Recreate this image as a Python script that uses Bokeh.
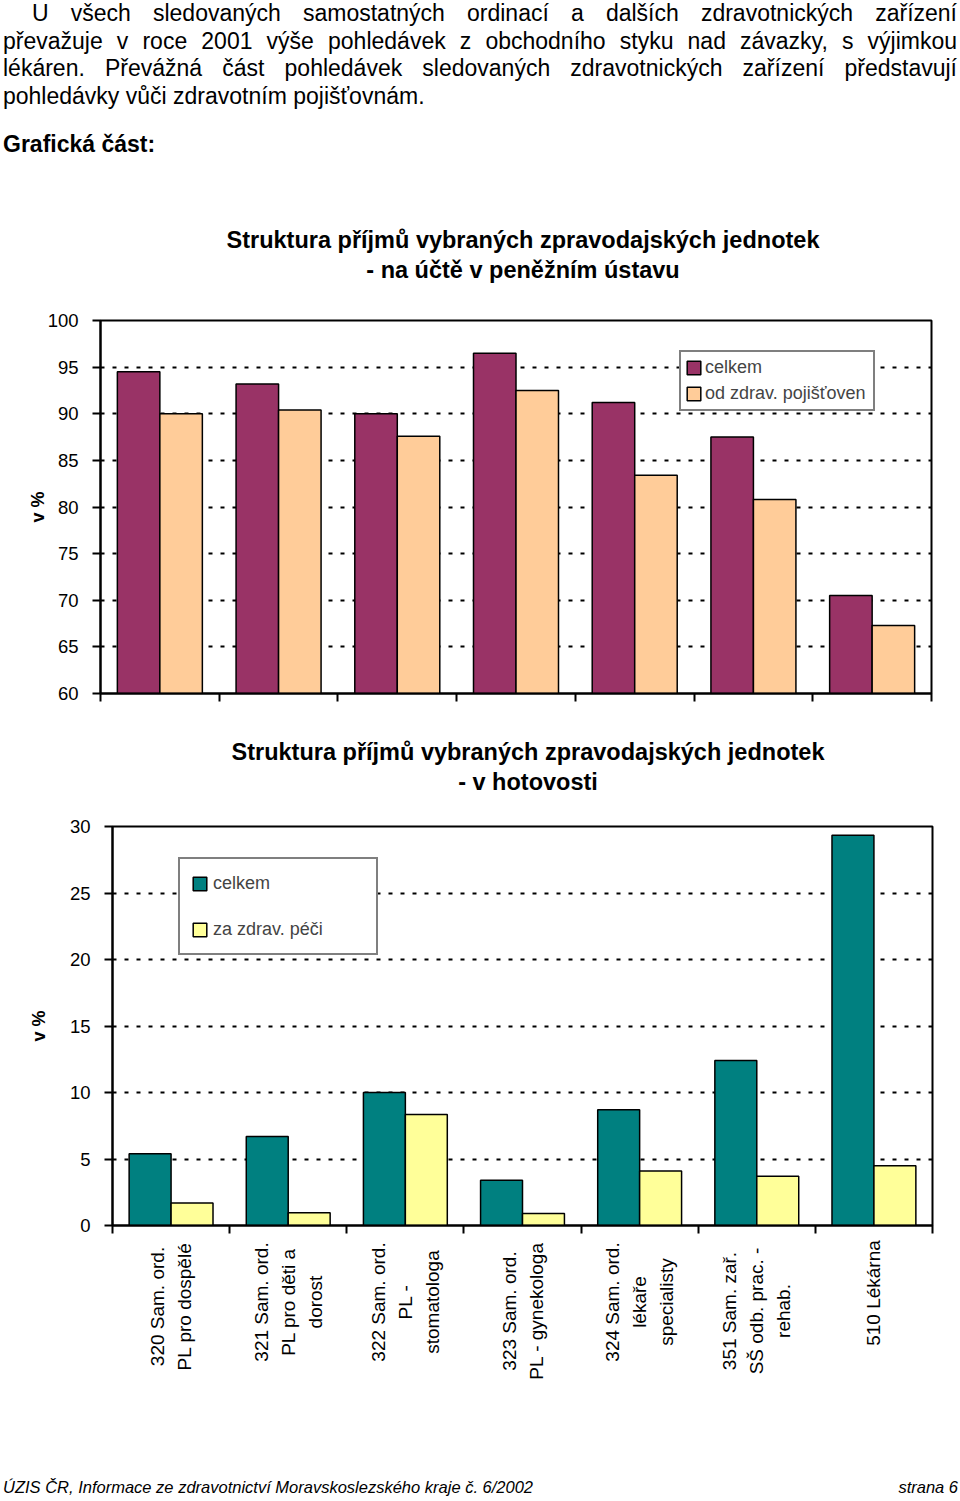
import numpy as np
from bokeh.plotting import figure
from bokeh.models import (Range1d, FixedTicker, ColumnDataSource, Legend, LegendItem, Div)
from bokeh.layouts import column
from bokeh.transform import dodge
from bokeh.embed import file_html
from bokeh.resources import INLINE
from bokeh.core.properties import value

# ---------------- data ----------------
categories = [
    "320 Sam. ord.\nPL pro dospělé",
    "321 Sam. ord.\nPL pro děti a\ndorost",
    "322 Sam. ord.\nPL -\nstomatologa",
    "323 Sam. ord.\nPL - gynekologa",
    "324 Sam. ord.\nlékaře\nspecialisty",
    "351 Sam. zař.\nSŠ odb. prac. -\nrehab.",
    "510 Lékárna",
]
ucet_celkem = [94.5, 93.2, 90.0, 96.5, 91.2, 87.5, 70.5]
ucet_pojistovny = [90.0, 90.4, 87.6, 92.5, 83.4, 80.8, 67.3]
hotovost_celkem = [5.4, 6.7, 10.0, 3.4, 8.7, 12.4, 29.35]
hotovost_pece = [1.7, 0.95, 8.35, 0.9, 4.1, 3.7, 4.5]

legend_ucet = ["celkem", "od zdrav. pojišťoven"]
legend_hotovost = ["celkem", "za zdrav. péči"]
title_ucet = ["Struktura příjmů vybraných zpravodajských jednotek",
              "- na účtě v peněžním ústavu"]
title_hotovost = ["Struktura příjmů vybraných zpravodajských jednotek",
                  "- v hotovosti"]
y_ticks_ucet = [60, 65, 70, 75, 80, 85, 90, 95, 100]
y_ticks_hotovost = [0, 5, 10, 15, 20, 25, 30]
y_label = "v %"

paragraph_lines = [
    "U všech sledovaných samostatných ordinací a dalších zdravotnických zařízení",
    "převažuje v roce 2001 výše pohledávek z obchodního styku nad závazky, s výjimkou",
    "lékáren. Převážná část pohledávek sledovaných zdravotnických zařízení představují",
    "pohledávky vůči zdravotním pojišťovnám.",
]
heading = "Grafická část:"
footer_left = "ÚZIS ČR, Informace ze zdravotnictví Moravskoslezského kraje č. 6/2002"
footer_right = "strana 6"

# ---------------- style ----------------
FONT = "Liberation Sans"
W = 944
BW = 0.358
N = len(categories)
centers = np.arange(N) + 0.5


def style_fig(p, y_ticks, tick_standoff, ylabel_standoff):
    p.outline_line_color = "black"
    p.outline_line_width = 2
    p.background_fill_color = "white"
    p.border_fill_color = "white"
    p.xgrid.visible = False
    p.ygrid.ticker = FixedTicker(ticks=y_ticks)
    p.ygrid.grid_line_color = "black"
    p.ygrid.grid_line_dash = "4 8"
    p.ygrid.grid_line_width = 2
    ya = p.yaxis[0]
    ya.ticker = FixedTicker(ticks=y_ticks)
    ya.major_tick_out = 8
    ya.major_tick_in = 0
    ya.major_tick_line_width = 2
    ya.minor_tick_line_color = None
    ya.axis_line_width = 2
    ya.major_label_text_font = FONT
    ya.major_label_text_font_size = "18.5px"
    ya.major_label_text_color = "black"
    ya.major_label_standoff = tick_standoff
    ya.axis_label = y_label
    ya.axis_label_text_font = FONT
    ya.axis_label_text_font_style = "bold"
    ya.axis_label_text_font_size = "18px"
    ya.axis_label_text_color = "black"
    ya.axis_label_standoff = ylabel_standoff
    xa = p.xaxis[0]
    xa.ticker = FixedTicker(ticks=[], minor_ticks=list(range(N + 1)))
    xa.minor_tick_out = 8
    xa.minor_tick_in = 0
    xa.minor_tick_line_width = 2
    xa.minor_tick_line_color = "black"
    xa.major_tick_line_color = None
    xa.major_tick_out = 0
    xa.major_tick_in = 0
    xa.major_label_standoff = 0
    xa.major_label_text_font_size = "0px"
    xa.axis_line_width = 2


def title_div(lines, height, pad_top, center_x):
    body = "<br>".join(lines)
    html = (f'<div style="font-family:\'Liberation Sans\',Arial,sans-serif;font-weight:bold;'
            f'font-size:23.5px;line-height:30px;color:#000;width:760px;text-align:center;'
            f'margin-left:{center_x - 380}px;padding-top:{pad_top}px;">{body}</div>')
    return Div(text=html, width=W, height=height, margin=0)


# ---------------- chart 1 ----------------
L1, R1, T1, B1, FH1 = 100, 13, 20, 15, 373
p1 = figure(width=W, height=T1 + FH1 + B1, x_range=Range1d(0, N), y_range=Range1d(60, 100),
            output_backend="svg", toolbar_location=None,
            min_border_left=L1, min_border_right=R1, min_border_top=T1, min_border_bottom=B1)
style_fig(p1, y_ticks_ucet, 14, -3)
src1 = ColumnDataSource(dict(x=centers, a=ucet_celkem, b=ucet_pojistovny))
ra = p1.vbar(x=dodge("x", -BW / 2), top="a", bottom=y_ticks_ucet[0], width=BW, source=src1,
             fill_color="#993366", line_color="black", line_width=1.5)
rb = p1.vbar(x=dodge("x", BW / 2), top="b", bottom=y_ticks_ucet[0], width=BW, source=src1,
             fill_color="#FFCC99", line_color="black", line_width=1.5)
leg1 = Legend(items=[LegendItem(label=legend_ucet[0], renderers=[ra]),
                     LegendItem(label=legend_ucet[1], renderers=[rb])],
              location=(579, 282), padding=4, spacing=3, glyph_width=17, glyph_height=17,
              label_height=23, label_width=164, label_standoff=3,
              label_text_font=FONT, label_text_font_size="18px",
              border_line_color="black", border_line_width=2, background_fill_alpha=1,
              margin=0)
p1.add_layout(leg1, "center")

# ---------------- chart 2 ----------------
L2, R2, T2, B2, FH2 = 112, 12, 20, 14, 399
p2 = figure(width=W, height=T2 + FH2 + B2, x_range=Range1d(0, N), y_range=Range1d(0, 30),
            output_backend="svg", toolbar_location=None,
            min_border_left=L2, min_border_right=R2, min_border_top=T2, min_border_bottom=B2)
style_fig(p2, y_ticks_hotovost, 14, 18)
src2 = ColumnDataSource(dict(x=centers, a=hotovost_celkem, b=hotovost_pece))
rc = p2.vbar(x=dodge("x", -BW / 2), top="a", bottom=0, width=BW, source=src2,
             fill_color="#008080", line_color="black", line_width=1.5)
rd = p2.vbar(x=dodge("x", BW / 2), top="b", bottom=0, width=BW, source=src2,
             fill_color="#FFFF99", line_color="black", line_width=1.5)
leg2 = Legend(items=[LegendItem(label=legend_hotovost[0], renderers=[rc]),
                     LegendItem(label=legend_hotovost[1], renderers=[rd])],
              location=(66, 270), padding=11, spacing=20, glyph_width=17, glyph_height=17,
              label_height=26, label_width=152, label_standoff=5,
              label_text_font=FONT, label_text_font_size="18px",
              border_line_color="black", border_line_width=2, background_fill_alpha=1,
              margin=0)
p2.add_layout(leg2, "center")

# ---------------- category labels (strip under chart 2, shares its x scale) ----------------
H3 = 161
p3 = figure(width=W, height=H3, x_range=p2.x_range, y_range=Range1d(0, H3),
            output_backend="svg", toolbar_location=None, x_axis_type=None, y_axis_type=None,
            min_border_left=L2, min_border_right=R2, min_border_top=0, min_border_bottom=0)
p3.outline_line_color = None
p3.xgrid.visible = False
p3.ygrid.visible = False
p3.background_fill_color = "white"
p3.border_fill_color = "white"
ppx = (W - L2 - R2) / N
LINE_SP = 27.0     # px between label lines
CHAR_W = 9.0       # approx px per character at 19px
TOP_GAP = 4        # px from strip top to end of the text
lx, ly, lt = [], [], []
for i, cat in enumerate(categories):
    lines = cat.split("\n")
    n = len(lines)
    longest = max(len(s) for s in lines)
    cy = H3 - TOP_GAP - longest * CHAR_W / 2
    for j, s in enumerate(lines):
        lx.append(centers[i] + (j - (n - 1) / 2) * LINE_SP / ppx)
        ly.append(cy)
        lt.append(s)
p3.text(x="x", y="y", text="text", source=ColumnDataSource(dict(x=lx, y=ly, text=lt)),
        angle=np.pi / 2, text_align="center", text_baseline="middle",
        text_font=value(FONT), text_font_size=value("19px"), text_color="black")

# ---------------- text blocks ----------------
just = "text-align:justify;text-align-last:justify;"
para_html = (
    f'<div style="font-family:\'Liberation Sans\',Arial,sans-serif;font-size:23px;'
    f'line-height:27.5px;color:#000;width:954px;margin-left:3px;">'
    f'<div style="{just}text-indent:29px">{paragraph_lines[0]}</div>'
    f'<div style="{just}">{paragraph_lines[1]}</div>'
    f'<div style="{just}">{paragraph_lines[2]}</div>'
    f'<div>{paragraph_lines[3]}</div>'
    f'<div style="font-weight:bold;margin-top:21px">{heading}</div>'
    f'</div>'
)
div_top = Div(text=para_html, width=W, height=180, margin=0)
div_t1 = title_div(title_ucet, 120, 45, 523)
div_t2 = title_div(title_hotovost, 98, 29, 528)
foot_html = (
    f'<div style="font-family:\'Liberation Sans\',sans-serif;'
    f'font-style:italic;font-size:16.5px;line-height:20px;color:#000;width:955px;'
    f'margin-left:3px;padding-top:77px;display:flex;justify-content:space-between;">'
    f'<span>{footer_left}</span><span>{footer_right}</span></div>'
)
div_foot = Div(text=foot_html, width=W, height=95, margin=0)

layout = column(div_top, div_t1, column(p1), div_t2, column(p2, p3), div_foot, spacing=0)
open("out.html", "w").write(file_html(layout, INLINE))
